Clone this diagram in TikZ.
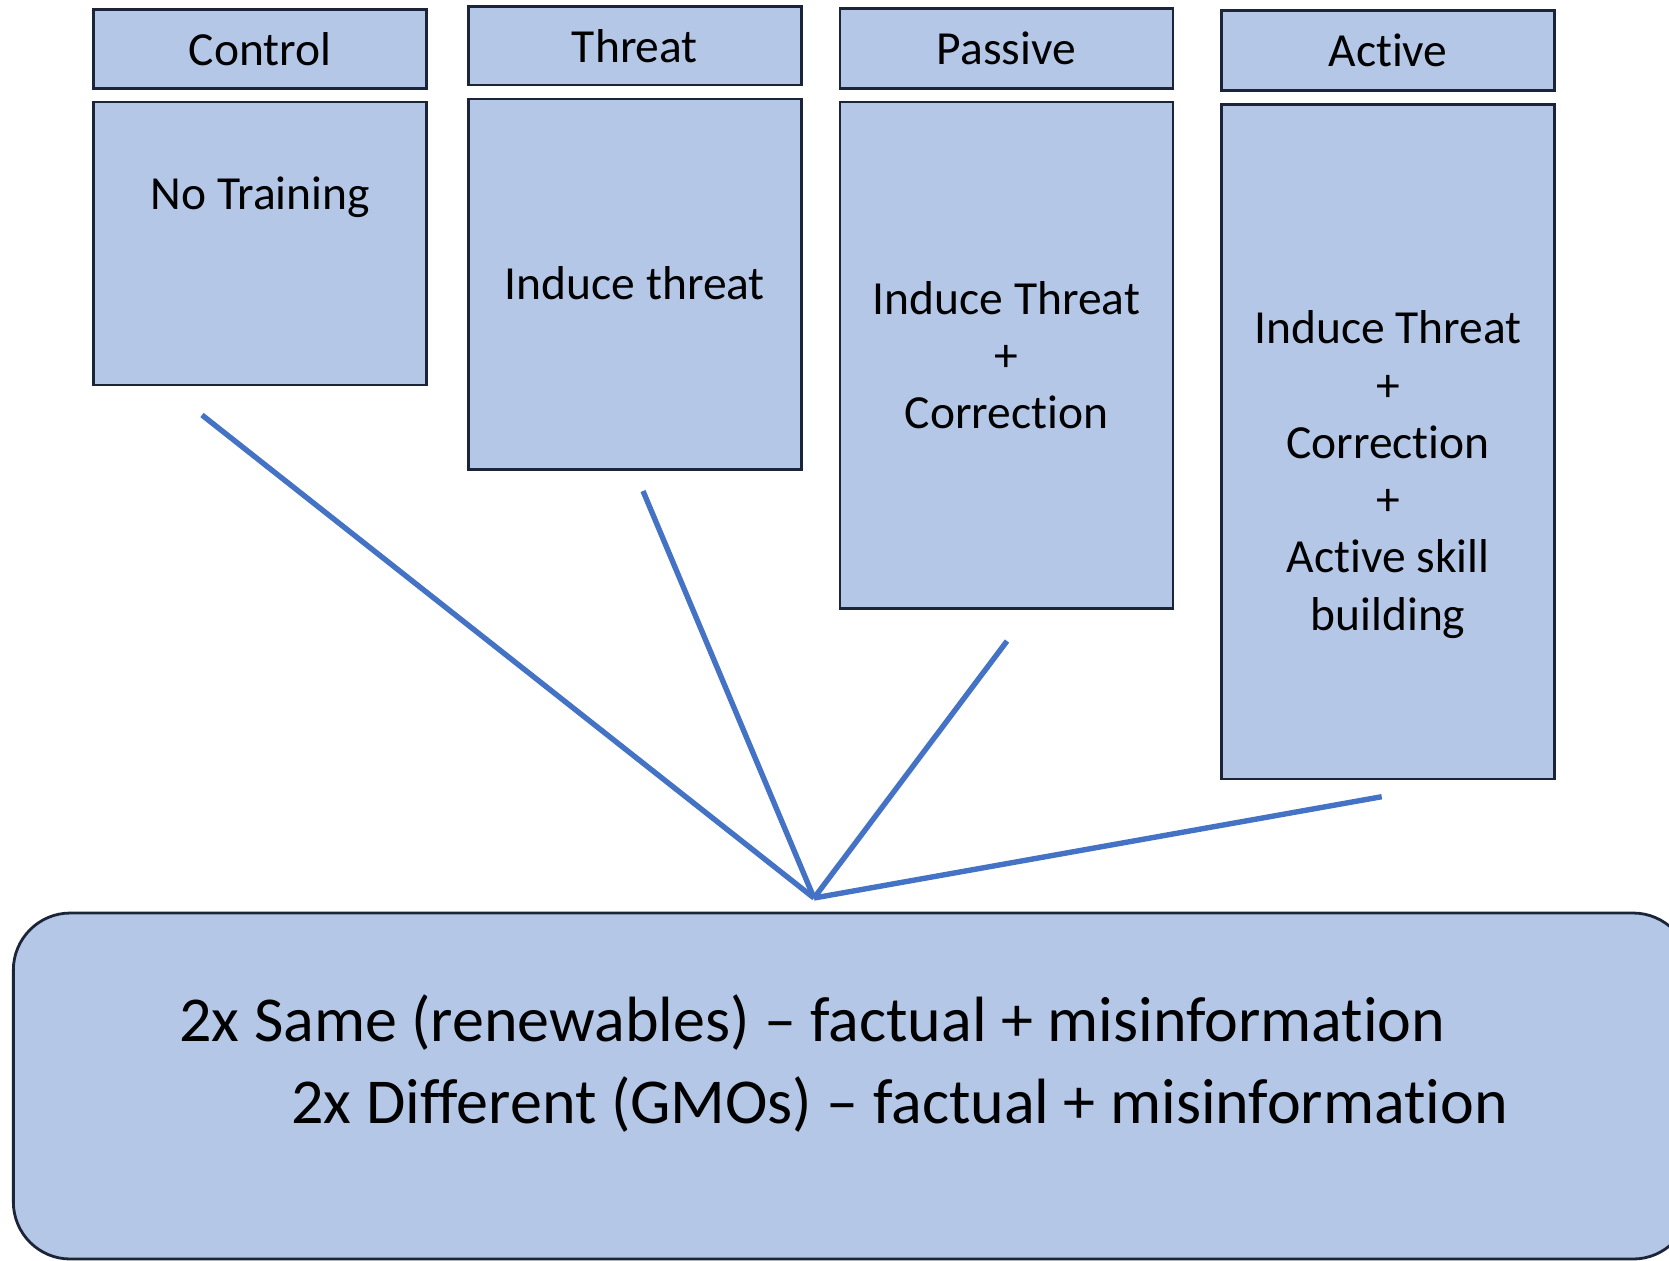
\documentclass[tikz,border=0pt]{standalone}
\usepackage{fontspec}
\setmainfont{Carlito}[Ligatures={TeX,NoCommon}]
\usepackage{tikz}
\usetikzlibrary{calc}
\definecolor{boxfill}{HTML}{B4C7E7}
\definecolor{linkblue}{HTML}{4472C4}
\definecolor{edge}{HTML}{1B2438}
\newcommand{\cellfont}{\fontsize{23.75}{28.65}\selectfont}
\newcommand{\taskfont}{\fontsize{32}{39}\selectfont}

\begin{document}
\begin{tikzpicture}[x=0.5pt, y=-0.5pt,
  box/.style={draw=edge, fill=boxfill, line width=1.4pt, minimum width=166.5pt, inner sep=0pt},
  txt/.style={font=\cellfont, align=center, anchor=base, inner sep=0pt},
  link/.style={draw=linkblue, line width=2.7pt}]

\useasboundingbox (0,0) rectangle (1669,1260);
\clip (0,0) rectangle (1669,1260);

\node [box, minimum height=39.5pt, font=\cellfont] (control) at (260.2, 49) {Control};
\node [box, minimum height=39.3pt, font=\cellfont] (threat) at (634.9, 45.7) {Threat};
\node [box, minimum height=39.9pt, font=\cellfont] (passive) at (1006.4, 48.4) {Passive};
\node [box, minimum height=39.9pt, font=\cellfont] (active) at (1388, 50.5) {Active};

\node [box, minimum height=141.5pt] (ctlbody) at (260.2, 243.5) {};
\node [box, minimum height=185.2pt] (thrbody) at (634.9, 284.2) {};
\node [box, minimum height=253.4pt] (pasbody) at (1006.4, 355.4) {};
\node [box, minimum height=337.35pt] (actbody) at (1388, 441.7) {};

\node [txt] (ctltext) at (260.5, 209) {No Training};
\node [txt] (thrtext) at (634.9, 299.5) {Induce threat};
\node [txt] (pastext) at (1006.4, 428.6) {Induce Threat\\+\\Correction};
\node [txt] (acttext) at (1388, 630.2) {Induce Threat\\+\\Correction\\+\\Active skill\\building};

\coordinate (hub) at (814, 898);
\coordinate (ctlend) at (202, 415);
\coordinate (thrend) at (643, 491);
\coordinate (pasend) at (1007, 641);
\coordinate (actend) at (1381.7, 796.7);

\draw [link] (ctlend) -- (hub);
\draw [link] (thrend) -- (hub);
\draw [link] (pasend) -- (hub);
\draw [link] (actend) -- (hub);

\node [box, minimum width=838.35pt, minimum height=173pt, rounded corners=28.5pt] (tasks) at (851.7, 1086) {};
\node [txt, font=\taskfont, anchor=base west] (same) at (179, 1041) {2x Same (renewables) – factual + misinformation};
\node [txt, font=\taskfont, anchor=base west] (diff) at (291, 1123) {2x Different (GMOs) – factual + misinformation};

\end{tikzpicture}
\end{document}
